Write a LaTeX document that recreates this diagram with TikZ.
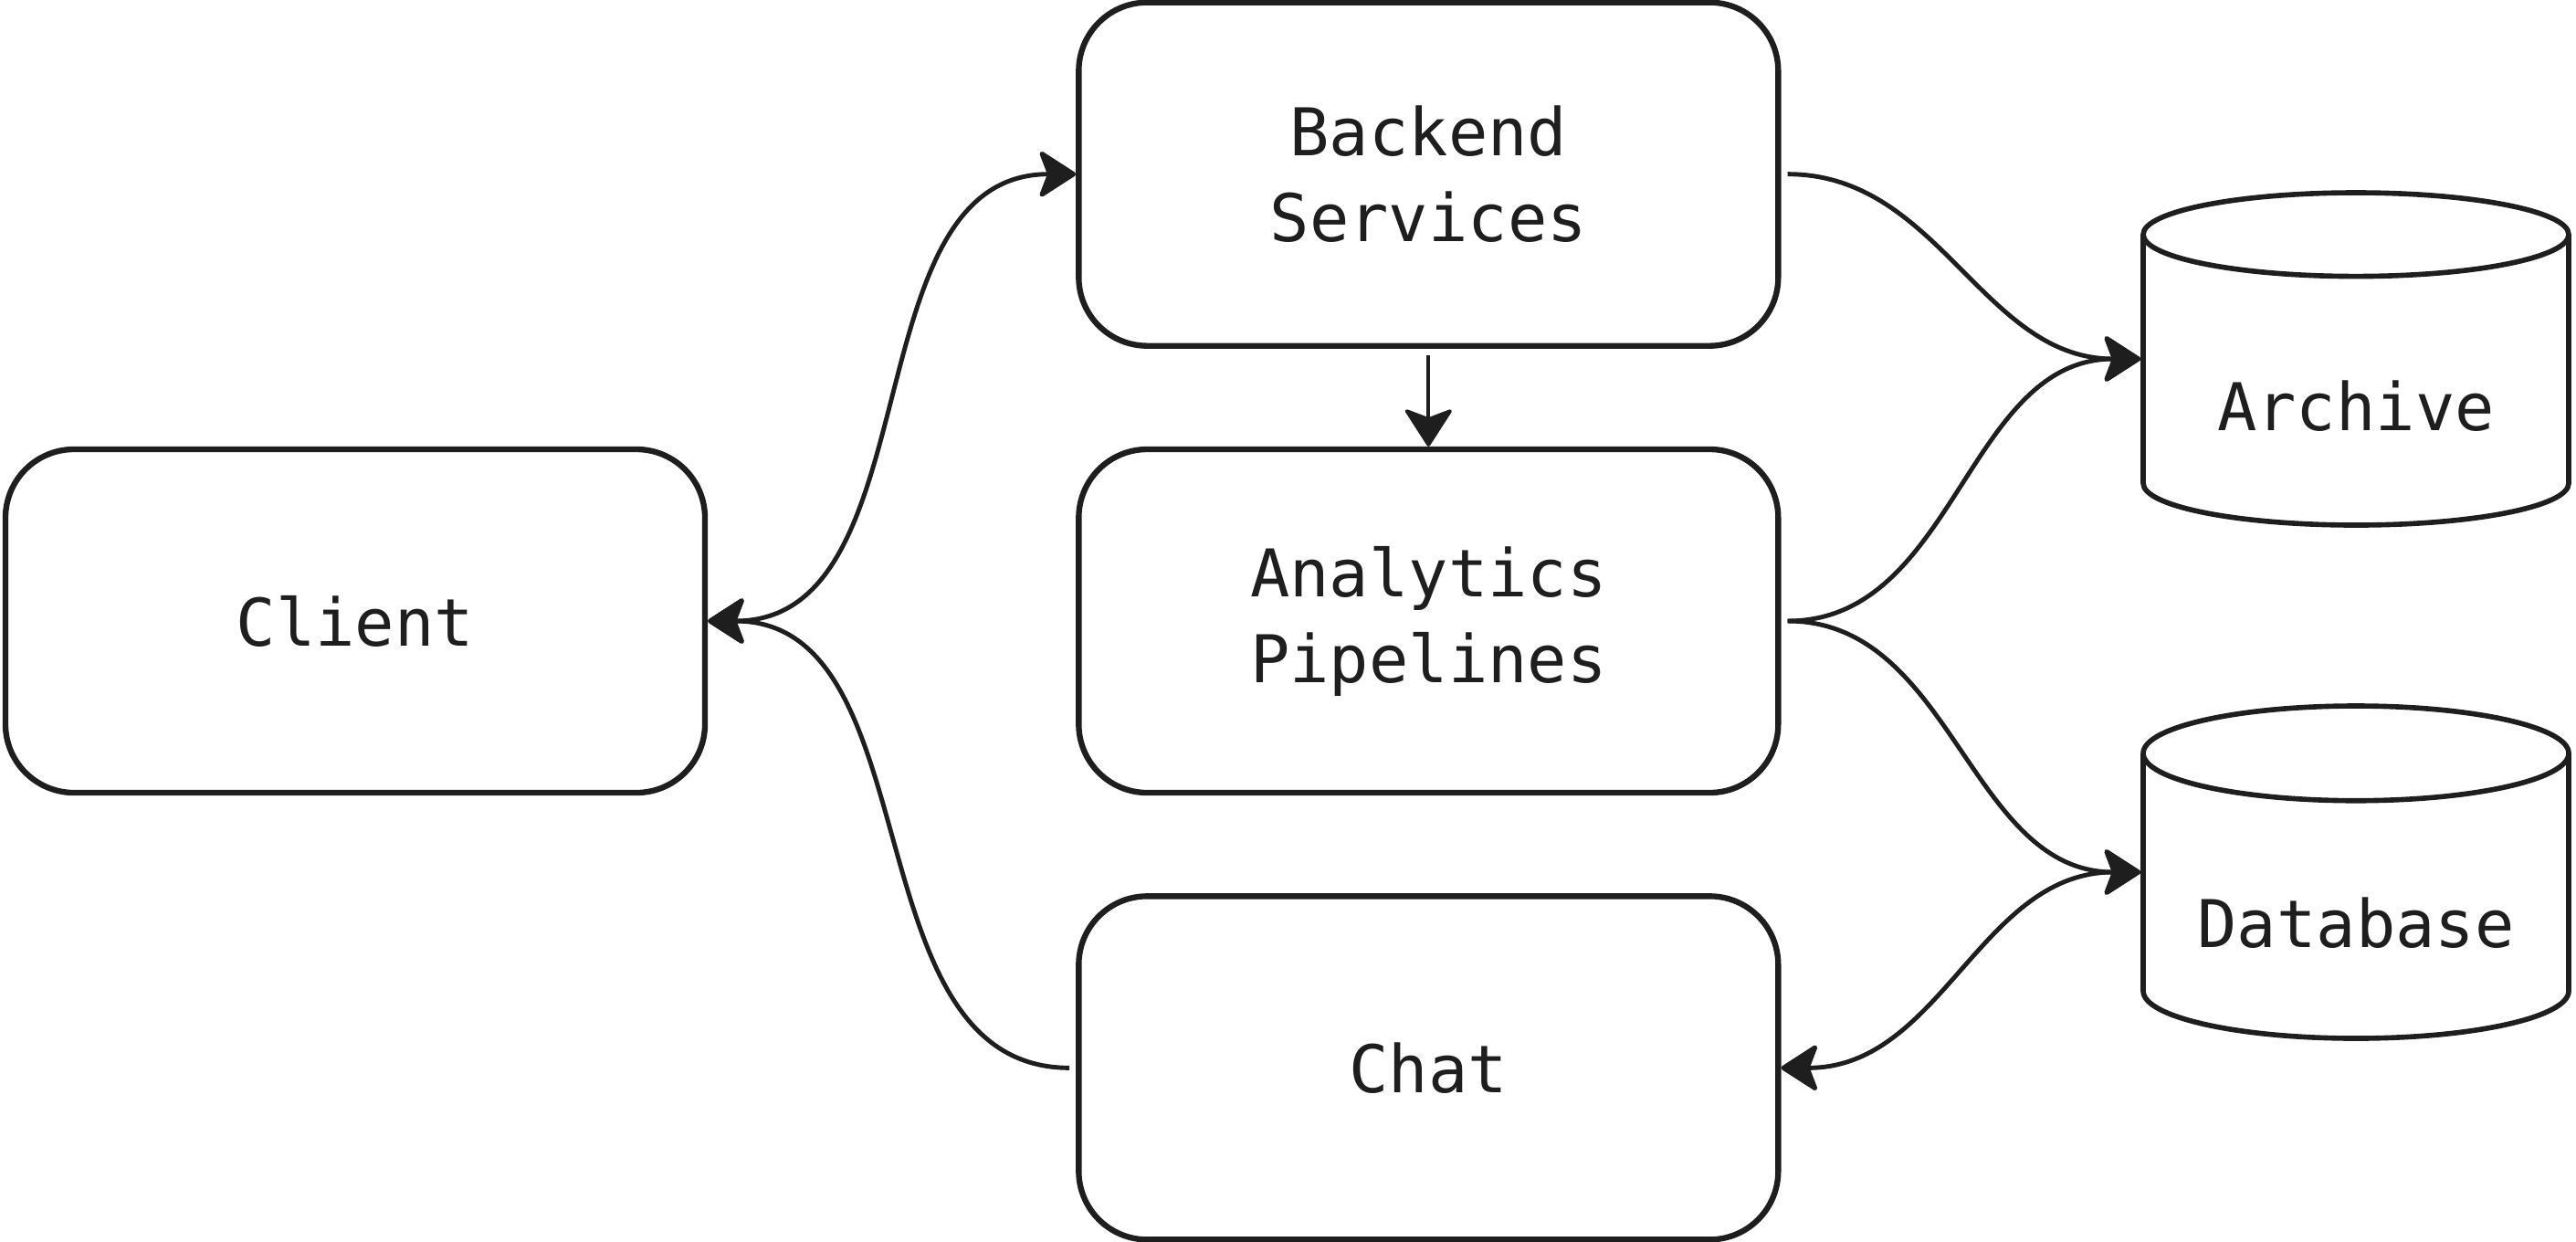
\documentclass[tikz,border=0pt]{standalone}
\usepackage{fontspec}
\setmonofont{DejaVu Sans Mono}
\usetikzlibrary{positioning,arrows.meta,shapes.geometric}
\definecolor{ink}{HTML}{1E1E1E}

\begin{document}
\begin{tikzpicture}[
node distance=1.07cm and 4.03cm,
>={Stealth[length=12.5pt, width=16pt, inset=3pt, round]},
box/.style={draw=ink, line width=1.8pt, rounded corners=0.75cm, align=center, minimum width=7.66cm, minimum height=3.76cm, text=ink, font=\ttfamily\fontsize{20.5}{26.7}\selectfont},
db/.style={cylinder, shape border rotate=90, aspect=0.28, draw=ink, line width=1.6pt, minimum width=4.66cm, minimum height=3.64cm, text height=27pt, text depth=0pt, anchor=shape center, text=ink, font=\ttfamily\fontsize{20.5}{26.7}\selectfont},
arr/.style={->, draw=ink, line width=1.4pt},
biarr/.style={<->, draw=ink, line width=1.4pt}
]
\useasboundingbox (0,0) rectangle (28.21,-13.59);
\node[box] (client) at (3.89,-6.80) {Client};
\node[box, right=of client] (analytics) {Analytics\\Pipelines};
\node[box, above=of analytics] (backend) {Backend\\Services};
\node[box, below=of analytics] (chat) {Chat};
\node[db] (archive) at (25.80,-3.93) {Archive};
\node[db] (database) at (25.80,-9.55) {Database};
\draw[biarr] (client.east) to[out=0, in=180] (backend.west);
\draw[arr, shorten <=2pt] (chat.west) to[out=180, in=0] (client.east);
\draw[arr, line width=1.1pt, shorten <=2pt] (backend.south) -- (analytics.north);
\draw[arr, shorten <=2pt] (backend.east) to[out=0, in=180] (archive.shape center -| archive.west);
\draw[arr, shorten <=2pt] (analytics.east) to[out=0, in=180] (archive.shape center -| archive.west);
\draw[arr, shorten <=2pt] (analytics.east) to[out=0, in=180] (database.shape center -| database.west);
\draw[biarr] (chat.east) to[out=0, in=180] (database.shape center -| database.west);
\end{tikzpicture}
\end{document}
